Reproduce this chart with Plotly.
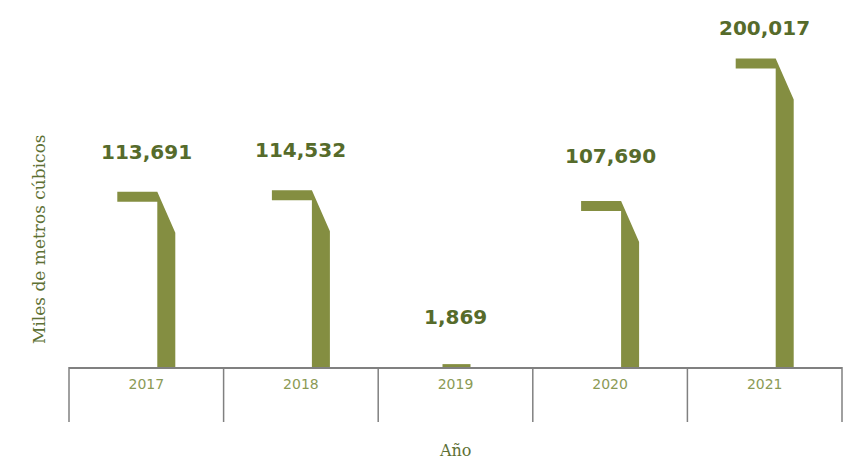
import plotly.graph_objects as go

# ---- data ----
years = ["2017", "2018", "2019", "2020", "2021"]
values = [113691, 114532, 1869, 107690, 200017]
value_labels = ["113,691", "114,532", "1,869", "107,690", "200,017"]

# ---- style / layout constants ----
W, H = 849, 466
M = dict(l=69, r=7, t=20, b=99)
plot_w = W - M["l"] - M["r"]
plot_h = H - M["t"] - M["b"]
Y_MAX = 225000
ux = len(years) / plot_w          # data units per px (x)
uy = Y_MAX / plot_h               # data units per px (y)

# bar shape in pixels relative to category centre
FLAG_L, STEM_L, STEM_R = -29, 11, 29
FLAG_T, DROP = 10, 41
SMALL_L, SMALL_R = -13, 15
label_shift = [30, 30, 37, 35, 21]   # px above value top

BAR = "#848e41"
LABEL = "#566b2b"
TICK = "#8b9a55"
TITLE = "#5d7034"
GRID = "#808080"

fig = go.Figure()
for i, v in enumerate(values):
    if v < DROP * uy:
        xs = [i + SMALL_L * ux, i + SMALL_R * ux, i + SMALL_R * ux, i + SMALL_L * ux, i + SMALL_L * ux]
        ys = [0, 0, v, v, 0]
    else:
        xs = [i + FLAG_L * ux, i + STEM_L * ux, i + STEM_R * ux, i + STEM_R * ux,
              i + STEM_L * ux, i + STEM_L * ux, i + FLAG_L * ux, i + FLAG_L * ux]
        ys = [v, v, v - DROP * uy, 0, 0, v - FLAG_T * uy, v - FLAG_T * uy, v]
    fig.add_trace(go.Scatter(x=xs, y=ys, mode="lines", fill="toself",
                             fillcolor=BAR, line=dict(width=0), hoverinfo="skip",
                             showlegend=False))
    fig.add_annotation(x=i, y=v, text=value_labels[i], showarrow=False,
                       yanchor="bottom", xanchor="center", yshift=label_shift[i] - 4,
                       font=dict(family="DejaVu Sans", size=20, color=LABEL, weight="bold"))

# category dividers below axis
for k in range(len(years) + 1):
    fig.add_shape(type="line", xref="paper", yref="paper",
                  x0=k / len(years), x1=k / len(years), y0=0, y1=-55 / plot_h,
                  line=dict(color=GRID, width=1.5))

fig.add_annotation(text="Miles de metros cúbicos", xref="paper", yref="paper",
                   x=(39 - M["l"]) / plot_w, y=(H - M["b"] - 239) / plot_h,
                   textangle=-90, showarrow=False, xanchor="center", yanchor="middle",
                   font=dict(family="DejaVu Serif", size=17, color=TITLE))
fig.add_annotation(text="Año", xref="paper", yref="paper",
                   x=0.5, y=-(450 - (H - M["b"])) / plot_h,
                   showarrow=False, xanchor="center", yanchor="middle",
                   font=dict(family="DejaVu Serif", size=16, color=TITLE))

fig.update_layout(
    width=W, height=H, margin=M,
    paper_bgcolor="white", plot_bgcolor="white",
    xaxis=dict(range=[-0.5, len(years) - 0.5], tickvals=list(range(len(years))),
               ticktext=years, showgrid=False, zeroline=False, showline=True,
               linecolor=GRID, linewidth=1.5, ticks="", ticklabelstandoff=3,
               automargin=False,
               tickfont=dict(family="DejaVu Sans", size=14, color=TICK)),
    yaxis=dict(range=[0, Y_MAX], visible=False, automargin=False),
)

fig.write_html("out.html", config={"displayModeBar": False},
               post_script="document.body.style.margin='0';document.body.style.overflow='hidden';")
